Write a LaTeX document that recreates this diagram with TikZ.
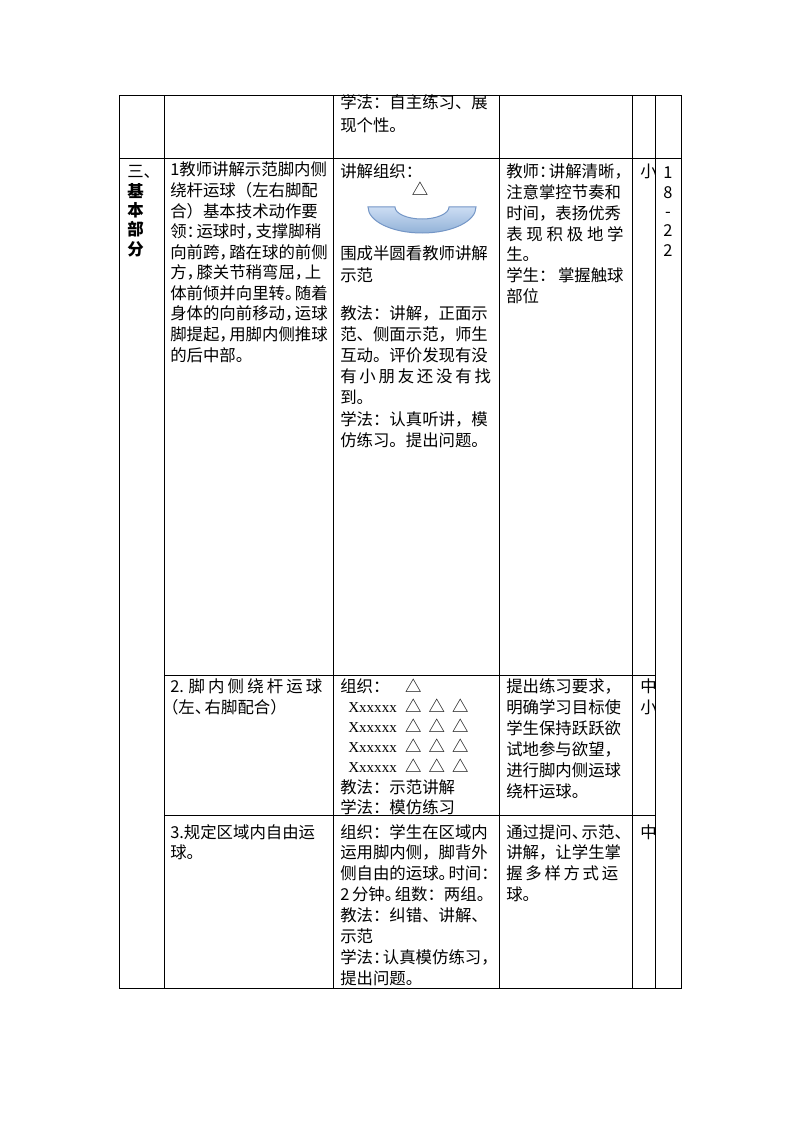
\documentclass[tikz,border=0pt]{standalone}
\usepackage{fontspec}
\setmainfont{Noto Sans CJK SC}
\newfontfamily\xfont{Liberation Serif}

\definecolor{bowltop}{RGB}{204,221,243}
\definecolor{bowlbot}{RGB}{146,178,216}
\definecolor{bowlline}{RGB}{116,150,198}

\newcommand\cellfont{\fontsize{12.3pt}{15pt}\selectfont}
\newcommand\hp[1]{\makebox[0.6em][l]{#1}}
\newcommand\hpo[1]{\makebox[0.5em][r]{#1}}
\newcommand\spread[2]{\makebox[#1][s]{#2}}
\newcommand\xrow{\hspace{6pt}{\xfont\fontsize{11.3pt}{13pt}\selectfont Xxxxxx}\hspace{6.2pt}△\hspace{5.3pt}△\hspace{5.3pt}△}

\tikzset{
  cell/.style={anchor=base west, inner sep=0pt, font=\cellfont},
  digit/.style={anchor=base, inner sep=0pt, font=\cellfont},
  rule/.style={line width=0.75pt, line cap=rect},
  bowl/.style={draw=bowlline, line width=0.75pt, top color=bowltop, bottom color=bowlbot},
}

\begin{document}
\begin{tikzpicture}[x=0.75pt, y=-0.75pt]
  \useasboundingbox[fill=white] (0,0) rectangle (794,1123);

  % top row (continued)
  \foreach \s [count=\i from 0] in {学法：自主练习、展, 现个性。}
    \node[cell] (top-\i) at (340,{109+\i*23}) {\s};

  % section title
  \node[cell] (part-0) at (127,178) {三、};
  \foreach \s [count=\i] in {基, 本, 部, 分}
    \node[cell, font=\cellfont\bfseries] (part-\i) at (127,{178+\i*19.25}) {\s};

  % row 1: content
  \foreach \s [count=\i from 0] in {1教师讲解示范脚内侧, 绕杆运球（左右脚配, 合）基本技术动作要,
      领\hp{：}运球时\hp{，}支撑脚稍, 向前跨\hp{，}踏在球的前侧, 方\hp{，}膝关节稍弯屈\hp{，}上,
      体前倾并向里转\hp{。}随着, 身体的向前移动\hp{，}运球, 脚提起\hp{，}用脚内侧推球, 的后中部。}
    \node[cell] (aim-\i) at (170,{176+\i*20.56}) {\s};

  % row 1: organisation
  \node[cell] (org-0) at (340,178) {讲解组织：};
  \node[inner sep=0pt, font=\cellfont] (teacher) at (420,189) {△};
  \path[bowl] (368,207) -- (395,207)
    arc[start angle=180, end angle=0, x radius=27, y radius=12] -- (476,207)
    arc[start angle=0, end angle=180, x radius=54, y radius=26] -- cycle;
  \foreach \s [count=\i from 0] in {围成半圆看教师讲解, 示范}
    \node[cell] (ring-\i) at (340,{259+\i*22}) {\s};
  \foreach \s [count=\i from 0] in {教法：讲解，正面示, 范、侧面示范，师生, 互动。评价发现有没,
      {\spread{113pt}{有 小 朋 友 还 没 有 找}}, 到。, 学法：认真听讲，模, 仿练习。提出问题。}
    \node[cell] (way-\i) at (340,{319+\i*21.2}) {\s};

  % row 1: requirements
  \foreach \s [count=\i from 0] in {教师\hp{：}讲解清晰\hp{，}, 注意掌控节奏和, 时间，表扬优秀,
      {\spread{88pt}{表 现 积 极 地 学}}, 生。, {\spread{88pt}{学生： 掌握触球}}, 部位}
    \node[cell] (req-\i) at (506,{178+\i*20.67}) {\s};

  % time
  \foreach \s [count=\i from 0] in {1, 8, -, 2, 2}
    \node[digit] (time-\i) at (668,{179+\i*19.25}) {\s};

  % row 2
  \foreach \s [count=\i from 0] in {{\spread{114pt}{2. 脚 内 侧 绕 杆 运 球}}, \hpo{（}左\hp{、}右脚配合）}
    \node[cell] (drill-\i) at (170,{692+\i*21}) {\s};
  \foreach \s [count=\i from 0] in {组织：\hspace{11.7pt}△, \xrow, \xrow, \xrow, \xrow, 教法：示范讲解, 学法：模仿练习}
    \node[cell] (line-\i) at (340,{692+\i*20.2}) {\s};
  \foreach \s [count=\i from 0] in {提出练习要求，, 明确学习目标使, 学生保持跃跃欲, 试地参与欲望，,
      进行脚内侧运球, 绕杆运球。}
    \node[cell] (goal-\i) at (506,{692+\i*21}) {\s};

  % row 3
  \foreach \s [count=\i from 0] in {3.规定区域内自由运, 球。}
    \node[cell] (free-\i) at (170,{838+\i*20.86}) {\s};
  \foreach \s [count=\i from 0] in {组织：学生在区域内, 运用脚内侧，脚背外, 侧自由的运球\hp{。}时间\hp{：},
      2\,分钟\hp{。}组数：两组。, 教法：纠错、讲解、, 示范, 学法\hp{：}认真模仿练习\hp{，}, 提出问题。}
    \node[cell] (zone-\i) at (340,{838+\i*20.86}) {\s};
  \foreach \s [count=\i from 0] in {通过提问\hp{、}示范\hp{、}, 讲解，让学生掌,
      {\spread{84pt}{握 多 样 方 式 运}}, 球。}
    \node[cell] (skill-\i) at (506,{838+\i*20.86}) {\s};

  % intensity, clipped to its column
  \begin{scope}
    \clip (632,159) rectangle (655,988);
    \node[cell] (load-0) at (640,178) {小};
    \node[cell] (load-1) at (640,692) {中};
    \node[cell] (load-2) at (640,713) {小};
    \node[cell] (load-3) at (640,838) {中};
  \end{scope}

  % table rules
  \foreach \x in {119,164,333,499,632,655,681}
    \draw[rule] (\x,96) -- (\x,988);
  \foreach \y in {96,159,988}
    \draw[rule] (119,\y) -- (681,\y);
  \foreach \y in {675,815}
    \draw[rule] (164,\y) -- (655,\y);
\end{tikzpicture}
\end{document}
